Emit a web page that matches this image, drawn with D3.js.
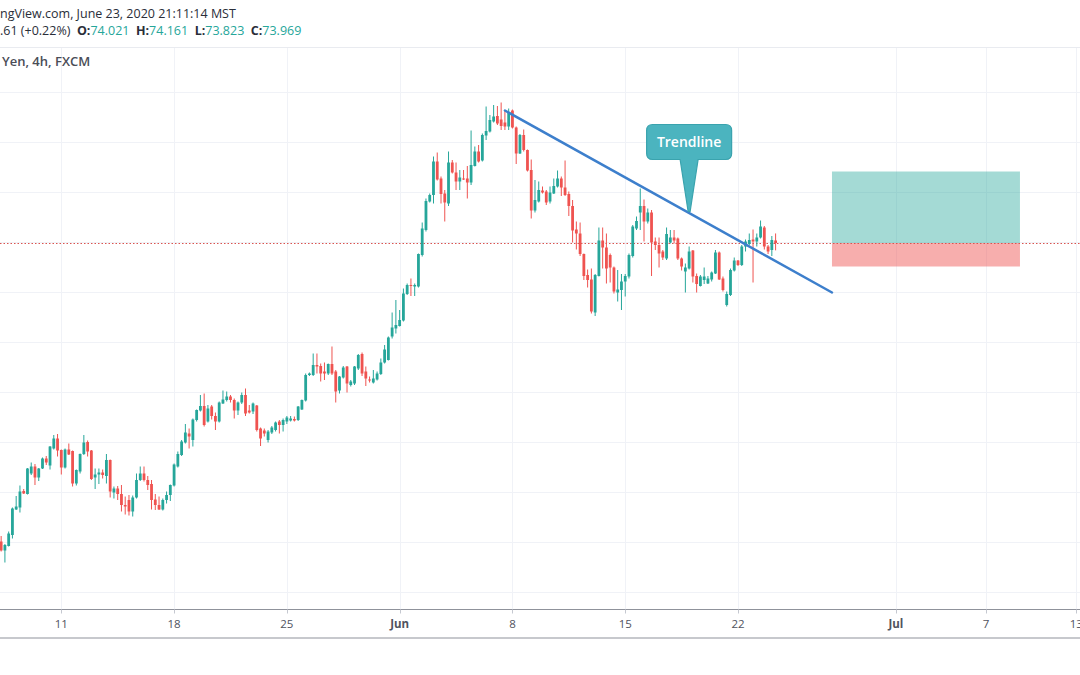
<!DOCTYPE html>
<html>
<head>
<meta charset="utf-8">
<script src="https://cdn.jsdelivr.net/npm/d3@7"></script>
<style>
  html, body { margin: 0; padding: 0; background: #ffffff; }
  svg { display: block; }
</style>
</head>
<body>
<svg id="chart" width="1080" height="675"></svg>
<script>
// ---------------- DATA ----------------
// 4h candles, [open, high, low, close], bar index 0 = first visible bar
const ohlc = [
[68.00,68.11,67.80,67.82],[67.82,67.95,67.58,67.93],[67.91,68.20,67.90,68.16],[68.13,68.68,68.06,68.66],
[68.64,68.91,68.63,68.70],[68.68,69.12,68.58,69.00],[69.01,69.05,68.95,68.96],[68.95,69.47,68.94,69.46],
[69.36,69.58,69.33,69.50],[69.50,69.55,69.13,69.28],[69.28,69.47,69.21,69.46],[69.46,69.68,69.45,69.66],
[69.66,69.71,69.53,69.58],[69.52,69.91,69.44,69.90],[69.86,70.13,69.84,70.06],[70.06,70.15,69.70,69.82],
[69.83,69.84,69.34,69.48],[69.48,69.86,69.46,69.84],[69.84,69.96,69.73,69.74],[69.81,69.82,69.10,69.16],
[69.16,69.44,69.12,69.43],[69.40,69.76,69.36,69.75],[69.75,70.13,69.73,69.98],[69.99,70.02,69.70,69.80],
[69.82,69.83,69.23,69.25],[69.28,69.46,69.05,69.34],[69.34,69.46,69.15,69.38],[69.38,69.44,69.26,69.33],
[69.31,69.75,69.16,69.63],[69.63,69.64,68.88,69.00],[68.98,69.10,68.86,69.06],[69.06,69.11,68.83,68.95],
[68.95,69.13,68.60,68.73],[68.73,68.90,68.54,68.70],[68.83,68.93,68.52,68.60],[68.60,68.92,68.50,68.88],
[68.88,69.36,68.86,69.23],[69.23,69.50,69.21,69.36],[69.36,69.50,69.20,69.23],[69.23,69.31,69.03,69.13],
[69.15,69.23,68.64,68.83],[68.84,68.95,68.63,68.73],[68.73,68.90,68.63,68.64],[68.64,68.86,68.62,68.83],
[68.83,69.00,68.76,68.93],[68.93,69.14,68.81,69.13],[69.12,69.56,69.10,69.54],[69.50,69.80,69.48,69.75],
[69.73,70.03,69.71,70.00],[69.98,70.35,69.96,70.18],[70.16,70.26,69.86,70.10],[70.03,70.46,69.90,70.44],
[70.43,70.64,70.40,70.63],[70.62,70.93,70.60,70.71],[70.71,70.96,70.30,70.33],[70.40,70.73,70.38,70.66],
[70.70,70.73,70.44,70.51],[70.51,70.58,70.23,70.40],[70.40,70.80,70.38,70.78],[70.76,71.02,70.75,70.84],
[70.83,71.00,70.80,70.90],[70.90,70.93,70.78,70.83],[70.83,70.86,70.46,70.62],[70.62,70.80,70.53,70.78],
[70.78,70.98,70.75,70.93],[70.93,71.06,70.51,70.56],[70.62,70.73,70.56,70.58],[70.60,70.78,70.55,70.76],
[70.72,70.73,70.20,70.23],[70.26,70.28,69.91,70.06],[70.22,70.26,70.10,70.16],[70.03,70.23,69.98,70.20],
[70.18,70.31,70.15,70.28],[70.23,70.40,70.20,70.38],[70.40,70.43,70.16,70.33],[70.33,70.46,70.20,70.43],
[70.40,70.51,70.35,70.48],[70.42,70.51,70.40,70.46],[70.45,70.50,70.40,70.42],[70.43,70.71,70.41,70.70],
[70.64,70.84,70.63,70.83],[70.82,71.36,70.80,71.33],[71.33,71.38,71.31,71.36],[71.33,71.76,71.31,71.53],
[71.53,71.76,71.36,71.50],[71.51,71.56,71.20,71.36],[71.40,71.58,71.23,71.36],[71.36,71.56,71.33,71.55],
[71.55,71.90,71.33,71.36],[71.40,71.43,70.78,71.00],[71.02,71.31,70.96,71.30],[71.28,71.51,71.26,71.48],
[71.50,71.51,70.98,71.16],[71.13,71.23,71.10,71.20],[71.16,71.51,71.13,71.50],[71.46,71.75,71.43,71.73],
[71.75,71.78,71.31,71.36],[71.40,71.50,71.11,71.26],[71.24,71.30,71.18,71.22],[71.18,71.43,71.16,71.26],
[71.24,71.40,71.22,71.36],[71.35,71.66,71.33,71.58],[71.58,71.93,71.56,71.84],[71.63,72.10,71.62,72.08],
[72.10,72.58,72.06,72.28],[72.26,72.83,72.16,72.33],[72.31,72.63,72.30,72.43],[72.42,73.06,72.40,72.96],
[72.95,73.16,72.93,73.13],[73.13,73.26,72.91,73.11],[73.10,73.16,72.91,73.13],[73.10,73.76,73.08,73.75],
[73.73,74.38,73.70,74.26],[74.23,74.86,74.20,74.81],[74.80,74.96,74.78,74.93],[74.93,75.70,74.76,75.60],
[75.60,75.78,75.22,75.24],[75.26,75.30,74.76,74.95],[74.96,75.03,74.40,74.78],[74.76,75.80,74.71,75.58],
[75.58,75.63,75.36,75.38],[75.38,75.58,75.03,75.20],[75.20,75.43,75.03,75.28],[75.26,75.43,75.23,75.24],
[75.26,75.51,74.86,75.18],[75.18,76.22,75.13,75.53],[75.51,75.90,75.50,75.80],[75.80,75.93,75.58,75.60],
[75.62,76.16,75.60,76.13],[76.12,76.70,76.03,76.21],[76.20,76.53,76.18,76.43],[76.40,76.73,76.38,76.50],
[76.51,76.71,76.33,76.36],[76.44,76.78,76.23,76.31],[76.38,76.62,76.23,76.30],[76.30,76.66,76.23,76.58],
[76.62,76.64,76.26,76.28],[76.28,76.30,75.55,75.76],[75.76,76.15,75.75,76.13],[76.13,76.24,75.80,75.83],
[75.83,75.84,75.40,75.42],[75.43,75.64,74.46,74.62],[74.62,75.23,74.58,74.83],[74.80,75.20,74.78,75.03],
[75.02,75.10,74.96,74.98],[75.00,75.03,74.73,74.78],[74.80,75.10,74.76,74.98],[74.96,75.26,74.95,75.11],
[75.10,75.42,75.08,75.26],[75.26,75.30,74.91,75.08],[75.08,75.62,74.91,74.93],[74.95,75.00,74.51,74.71],
[74.71,74.83,73.98,74.22],[74.24,74.40,73.84,74.16],[74.16,74.38,73.71,73.75],[73.75,73.76,73.23,73.31],
[73.33,73.44,73.08,73.23],[73.24,73.46,72.56,72.60],[72.58,73.35,72.51,73.33],[73.31,74.28,73.30,74.02],
[74.02,74.28,73.46,73.88],[73.88,74.16,73.16,73.46],[73.73,73.76,73.18,73.48],[73.48,73.50,72.96,73.00],
[72.98,73.43,72.80,73.04],[73.03,73.35,72.63,73.20],[73.20,73.35,72.90,73.31],[73.30,73.76,73.26,73.73],
[73.71,74.33,73.68,74.30],[74.26,74.50,74.23,74.41],[74.58,75.06,74.23,74.71],[74.71,74.84,74.00,74.40],
[74.40,74.66,74.36,74.58],[74.58,74.63,73.31,73.98],[74.00,74.08,73.83,73.93],[73.93,74.08,73.48,73.76],
[73.80,73.83,73.63,73.68],[73.66,74.28,73.63,74.15],[73.98,74.23,73.96,74.08],[74.08,74.23,73.96,74.02],
[74.06,74.08,73.63,73.66],[73.66,73.68,73.42,73.50],[73.40,73.56,72.98,73.48],[73.46,73.90,73.44,73.80],
[73.82,73.83,73.18,73.30],[73.31,73.36,72.98,73.15],[73.11,73.33,73.10,73.30],[73.23,73.48,73.15,73.30],
[73.16,73.31,73.15,73.26],[73.24,73.40,73.20,73.38],[73.36,73.83,73.35,73.78],[73.78,73.80,73.23,73.24],
[73.26,73.30,73.00,73.03],[72.73,73.00,72.70,72.95],[72.93,73.46,72.91,73.43],[73.42,73.68,73.40,73.62],
[73.62,73.63,73.51,73.53],[73.53,73.93,73.51,73.90],[73.90,74.04,73.80,74.00],[73.95,74.16,73.93,74.03],
[74.04,74.24,73.18,74.00],[74.00,74.16,73.90,74.08],[74.08,74.42,74.06,74.30],[74.28,74.31,73.84,73.90],
[73.90,73.93,73.75,73.80],[73.83,74.11,73.71,74.03],[74.021,74.161,73.823,73.969]
];

// Time axis: label text and the bar index it sits on (future bars extend the axis)
const tickLabels = ["11", "18", "25", "Jun", "8", "15", "22", "Jul", "7", "13"];
const tickBars   = [16, 46, 76, 106, 136, 166, 196, 238, 262, 286];
const boldTicks  = ["Jun", "Jul"];

// Horizontal price grid levels
const gridPrices = [67, 68, 69, 70, 71, 72, 73, 74, 75, 76, 77];

// Last price
const lastPrice = 73.969;

// Drawing: trendline  [bar, price]
const trendStart = [134, 76.62];
const trendEnd   = [221, 72.98];

// Drawing: long position tool
const positionBars = [221, 271];
const entryPrice  = 73.97;
const targetPrice = 75.40;
const stopPrice   = 73.50;

// Drawing: callout
const calloutText   = "Trendline";
const calloutAnchor = [183, 74.60];

// Header texts
const headerLine1 = "ngView.com, June 23, 2020 21:11:14 MST";
const headerChange = ".61 (+0.22%)";
const ohlcLabels = ["O:", "H:", "L:", "C:"];
const ohlcValues = ["74.021", "74.161", "73.823", "73.969"];
const symbolLine = "Yen, 4h, FXCM";

// ---------------- STYLE ----------------
const W = 1080, H = 675;
const paneTop = 47, axisY = 609.5, axisBottom = 638;
const upColor = "#26a69a", downColor = "#ef5350";
const gridColor = "#f0f2f7";
const font = "'Open Sans', 'Liberation Sans', sans-serif";

const svg = d3.select("#chart");
svg.append("rect").attr("width", W).attr("height", H).attr("fill", "#ffffff");

const x = d3.scaleLinear().domain([16, 196]).range([61.3, 738]);
const y = d3.scaleLinear().domain([74, 73]).range([241.5, 291.5]);

// pane border top
svg.append("line").attr("x1", 0).attr("x2", W).attr("y1", paneTop + 0.5).attr("y2", paneTop + 0.5)
  .attr("stroke", "#e9ebf0").attr("stroke-width", 1);

// grid
const grid = svg.append("g");
grid.selectAll("line.h").data(gridPrices).join("line")
  .attr("x1", 0).attr("x2", W)
  .attr("y1", d => Math.round(y(d)) + 0.5).attr("y2", d => Math.round(y(d)) + 0.5)
  .attr("stroke", gridColor).attr("stroke-width", 1);
grid.selectAll("line.v").data(tickBars).join("line")
  .attr("x1", d => Math.round(x(d)) + 0.5).attr("x2", d => Math.round(x(d)) + 0.5)
  .attr("y1", paneTop + 1).attr("y2", axisY)
  .attr("stroke", gridColor).attr("stroke-width", 1);

// position tool
const pos = svg.append("g");
pos.append("rect")
  .attr("x", x(positionBars[0])).attr("width", x(positionBars[1]) - x(positionBars[0]))
  .attr("y", y(targetPrice)).attr("height", y(entryPrice) - y(targetPrice))
  .attr("fill", "rgba(38,166,154,0.42)");
pos.append("rect")
  .attr("x", x(positionBars[0])).attr("width", x(positionBars[1]) - x(positionBars[0]))
  .attr("y", y(entryPrice)).attr("height", y(stopPrice) - y(entryPrice))
  .attr("fill", "rgba(239,83,80,0.47)");

// price line
svg.append("line").attr("x1", 0).attr("x2", W)
  .attr("y1", Math.round(y(lastPrice)) + 0.5).attr("y2", Math.round(y(lastPrice)) + 0.5)
  .attr("stroke", "#d9534f").attr("stroke-width", 1).attr("stroke-dasharray", "1.5,2");

// candles
const bars = svg.append("g");
const bodyW = 2.8;
ohlc.forEach((d, i) => {
  const [o, h, l, c] = d;
  const col = c >= o ? upColor : downColor;
  const cx = x(i);
  bars.append("line")
    .attr("x1", cx).attr("x2", cx).attr("y1", y(h)).attr("y2", y(l))
    .attr("stroke", col).attr("stroke-width", 1);
  const top = y(Math.max(o, c)), bot = y(Math.min(o, c));
  bars.append("rect")
    .attr("x", cx - bodyW / 2).attr("width", bodyW)
    .attr("y", top).attr("height", Math.max(1, bot - top))
    .attr("fill", col);
});

// trendline
svg.append("line")
  .attr("x1", x(trendStart[0])).attr("y1", y(trendStart[1]))
  .attr("x2", x(trendEnd[0])).attr("y2", y(trendEnd[1]))
  .attr("stroke", "#3d7fcc").attr("stroke-width", 2.5).attr("stroke-linecap", "round");

// callout
const tipX = x(calloutAnchor[0]), tipY = y(calloutAnchor[1]);
const bw = 85, bh = 35, r = 6, gap = 52, halfBase = 9;
const bx = tipX - bw / 2, byBot = tipY - gap, byTop = byBot - bh;
const p = d3.path();
p.moveTo(bx + r, byTop);
p.lineTo(bx + bw - r, byTop);
p.quadraticCurveTo(bx + bw, byTop, bx + bw, byTop + r);
p.lineTo(bx + bw, byBot - r);
p.quadraticCurveTo(bx + bw, byBot, bx + bw - r, byBot);
p.lineTo(tipX + halfBase, byBot);
p.lineTo(tipX + 1, tipY);
p.lineTo(tipX - 1, tipY);
p.lineTo(tipX - halfBase, byBot);
p.lineTo(bx + r, byBot);
p.quadraticCurveTo(bx, byBot, bx, byBot - r);
p.lineTo(bx, byTop + r);
p.quadraticCurveTo(bx, byTop, bx + r, byTop);
p.closePath();
svg.append("path").attr("d", p.toString())
  .attr("fill", "#4bb4bf").attr("stroke", "#3aa3ae").attr("stroke-width", 1.2);
svg.append("text").attr("x", tipX).attr("y", byTop + bh / 2 + 1)
  .attr("text-anchor", "middle").attr("dominant-baseline", "middle")
  .attr("font-family", font).attr("font-size", 14).attr("font-weight", 600)
  .attr("fill", "#ffffff").text(calloutText);

// time axis
svg.append("rect").attr("x", 0).attr("y", axisY).attr("width", W).attr("height", axisBottom - axisY)
  .attr("fill", "#ffffff");
svg.append("line").attr("x1", 0).attr("x2", W).attr("y1", axisY).attr("y2", axisY)
  .attr("stroke", "#8f929b").attr("stroke-width", 1);
svg.append("line").attr("x1", 0).attr("x2", W).attr("y1", axisBottom).attr("y2", axisBottom)
  .attr("stroke", "#8f929b").attr("stroke-width", 1);
const axisG = svg.append("g");
axisG.selectAll("line").data(tickBars).join("line")
  .attr("x1", d => Math.round(x(d)) + 0.5).attr("x2", d => Math.round(x(d)) + 0.5)
  .attr("y1", axisY).attr("y2", axisY + 4)
  .attr("stroke", "#c5c8d0").attr("stroke-width", 1);
axisG.selectAll("text").data(tickBars).join("text")
  .attr("x", d => x(d)).attr("y", 625)
  .attr("text-anchor", "middle").attr("dominant-baseline", "middle")
  .attr("font-family", font).attr("font-size", 11.5)
  .attr("font-weight", (d, i) => boldTicks.includes(tickLabels[i]) ? 700 : 400)
  .attr("fill", "#50535e")
  .text((d, i) => tickLabels[i]);

// header
const hdr = svg.append("g").attr("font-family", font).attr("font-size", 12.5);
hdr.append("text").attr("x", 0).attr("y", 18).attr("fill", "#2a2e39").text(headerLine1);
const l2 = hdr.append("text").attr("x", 0).attr("y", 35).attr("fill", "#2a2e39");
l2.append("tspan").text(headerChange);
ohlcLabels.forEach((lab, i) => {
  l2.append("tspan").attr("dx", 6.5).attr("font-weight", 700).attr("fill", "#2a2e39").text(lab);
  l2.append("tspan").attr("fill", upColor).text(ohlcValues[i]);
});
svg.append("text").attr("x", 2).attr("y", 66).attr("font-family", font).attr("font-size", 13)
  .attr("font-weight", 600).attr("fill", "#4a4d57").text(symbolLine);
</script>
</body>
</html>
